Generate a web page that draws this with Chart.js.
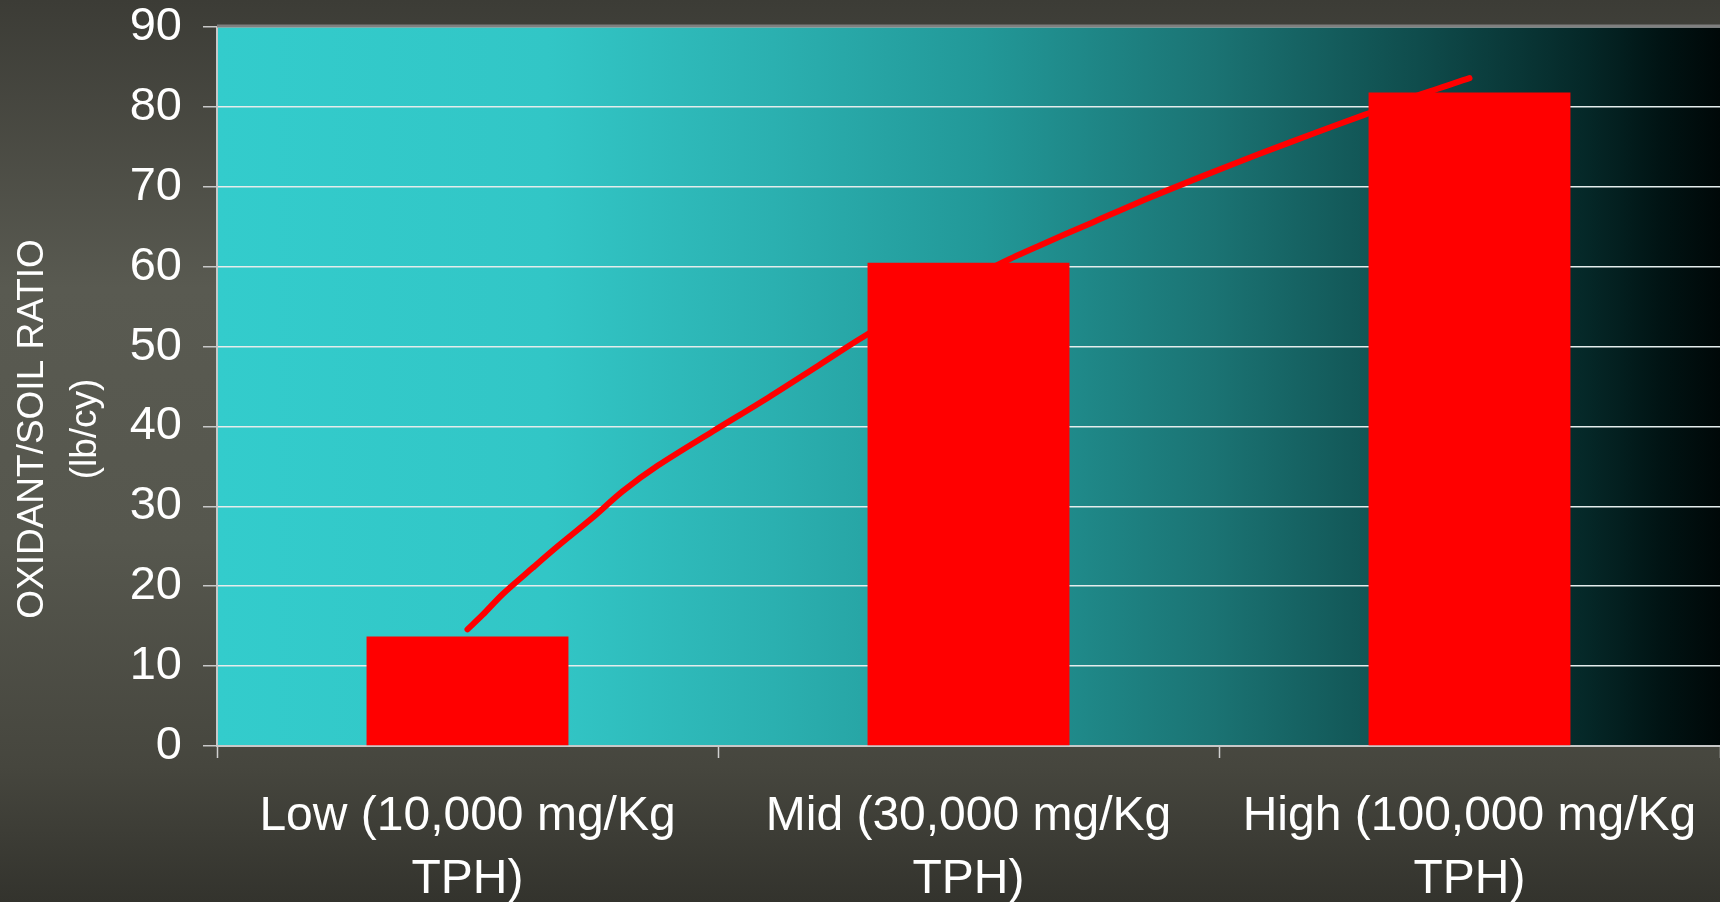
<!DOCTYPE html>
<html>
<head>
<meta charset="utf-8">
<script src="https://cdn.jsdelivr.net/npm/chart.js@4.4.1/dist/chart.umd.min.js"></script>
<style>
  html, body { margin: 0; padding: 0; overflow: hidden; }
  body {
    width: 1720px; height: 902px;
    background: linear-gradient(to bottom, #3c3c36 0%, #595a51 32%, #56574e 60%, #46463e 85%, #33332d 100%);
  }
  canvas { display: block; }
</style>
</head>
<body>
<canvas id="myChart" width="1720" height="902"></canvas>
<script>
// categories and values
const categories = [
    ['Low (10,000 mg/Kg', 'TPH)'],
    ['Mid (30,000 mg/Kg', 'TPH)'],
    ['High (100,000 mg/Kg', 'TPH)']
];
const ratioValues = [13.7, 60.5, 81.8];

// hand drawn trend curve, x in category units (0 = Low, 1 = Mid, 2 = High)
const trendX = [0.00, 0.03, 0.07, 0.13, 0.18, 0.25, 0.31, 0.38, 0.49, 0.60, 0.70, 0.80,
                0.90, 1.00, 1.07, 1.14, 1.25, 1.36, 1.47, 1.58, 1.69, 1.79, 1.90, 2.00];
const trendY = [14.6, 16.4, 19.0, 22.3, 25.0, 28.6, 31.9, 35.1, 39.4, 43.6, 47.6, 51.6,
                55.0, 58.3, 60.6, 62.6, 65.6, 68.6, 71.4, 74.1, 76.7, 79.0, 81.5, 83.6];

const yTicks = [0, 10, 20, 30, 40, 50, 60, 70, 80, 90];
const yTitle = ['OXIDANT/SOIL RATIO', '(lb/cy)'];

const FONT = "'Liberation Sans', Arial, sans-serif";

const plotBackground = {
    id: 'plotBackground',
    beforeDraw(chart) {
        const a = chart.chartArea;
        const ctx = chart.ctx;
        const g = ctx.createLinearGradient(a.left, 0, 1720, 0);
        g.addColorStop(0.00, '#33cccc');
        g.addColorStop(0.22, '#32c6c6');
        g.addColorStop(0.37, '#2bb0b0');
        g.addColorStop(0.51, '#229898');
        g.addColorStop(0.66, '#1b7474');
        g.addColorStop(0.80, '#0f4c4c');
        g.addColorStop(0.91, '#052828');
        g.addColorStop(0.96, '#011414');
        g.addColorStop(1.00, '#000808');
        ctx.save();
        ctx.fillStyle = g;
        ctx.fillRect(a.left, a.top, a.right - a.left, a.bottom - a.top);
        ctx.restore();
    },
    afterDraw(chart) {
        const a = chart.chartArea;
        const ctx = chart.ctx;
        ctx.save();
        ctx.strokeStyle = '#7f7f7f';
        ctx.lineWidth = 3;
        ctx.beginPath();
        ctx.moveTo(a.left, a.top - 1);
        ctx.lineTo(a.right, a.top - 1);
        ctx.stroke();
        // y axis title, two lines
        ctx.fillStyle = '#ffffff';
        ctx.font = '37px ' + FONT;
        ctx.textAlign = 'center';
        ctx.textBaseline = 'middle';
        ctx.translate(0, 429);
        ctx.rotate(-Math.PI / 2);
        ctx.fillText(yTitle[0], 0, 33);
        ctx.fillText(yTitle[1], 0, 86);
        ctx.restore();
    }
};

const ctx = document.getElementById('myChart').getContext('2d');
const myChart = new Chart(ctx, {
    type: 'bar',
    data: {
        labels: categories,
        datasets: [
            {
                label: 'Oxidant/soil ratio',
                data: ratioValues,
                backgroundColor: '#ff0000',
                borderWidth: 0,
                grouped: false,
                categoryPercentage: 1,
                barPercentage: 0.403,
                order: 0
            },
            {
                type: 'line',
                label: 'Trend',
                data: trendX.map((x, i) => ({x: x, y: trendY[i]})),
                xAxisID: 'xl',
                borderColor: '#ff0000',
                borderWidth: 6,
                borderCapStyle: 'round',
                borderJoinStyle: 'round',
                pointRadius: 0,
                tension: 0.3,
                fill: false,
                order: 1
            }
        ]
    },
    options: {
        responsive: false,
        animation: false,
        layout: { padding: 0 },
        plugins: {
            legend: { display: false },
            tooltip: { enabled: false }
        },
        scales: {
            x: {
                offset: true,
                grid: {
                    offset: true,
                    drawOnChartArea: false,
                    tickLength: 12,
                    tickColor: '#d0d0d0',
                    tickWidth: 1.5
                },
                border: { color: '#c8c8c8', width: 2 },
                ticks: {
                    color: '#ffffff',
                    padding: 27,
                    maxRotation: 0,
                    autoSkip: false,
                    font: { family: FONT, size: 48, lineHeight: 1.32 }
                },
                afterFit(scale) {
                    scale.height = 156;
                    scale.paddingLeft = 0;
                    scale.paddingRight = 0;
                }
            },
            xl: {
                type: 'linear',
                display: false,
                offset: false,
                grid: { offset: false },
                min: -0.5,
                max: 2.5
            },
            y: {
                min: 0,
                max: 90,
                afterBuildTicks(scale) { scale.ticks = yTicks.map(v => ({value: v})); },
                grid: {
                    color: '#e4ecec',
                    lineWidth: 1.5,
                    tickLength: 14,
                    tickColor: '#c8c8c8'
                },
                border: { color: '#c8c8c8', width: 2 },
                ticks: {
                    color: '#ffffff',
                    padding: 21,
                    font: { family: FONT, size: 47 }
                },
                afterFit(scale) {
                    scale.width = 217;
                    scale.paddingTop = 27;
                    scale.paddingBottom = 0;
                }
            }
        }
    },
    plugins: [plotBackground]
});
</script>
</body>
</html>
